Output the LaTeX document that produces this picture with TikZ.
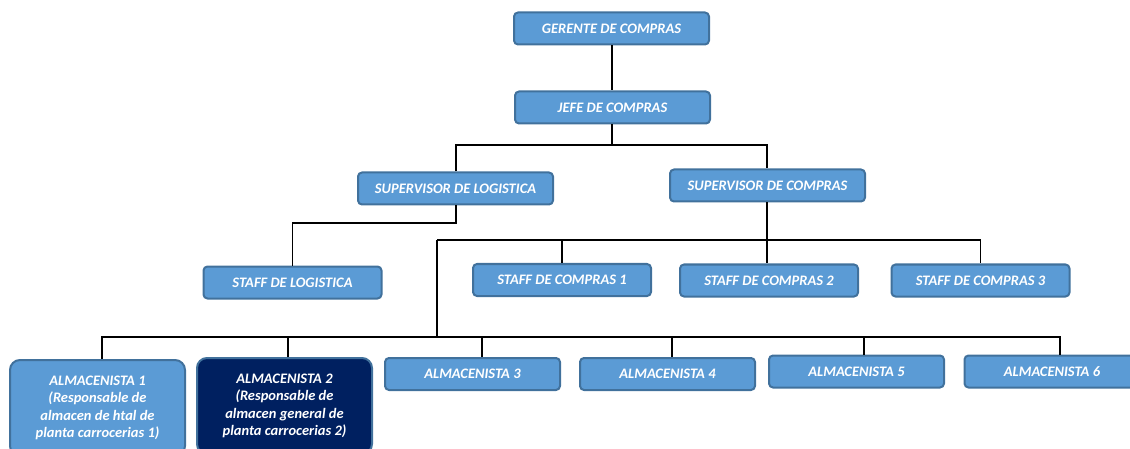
\documentclass[tikz,border=0pt]{standalone}
\usepackage{fontspec}
\setmainfont{Carlito}
\newfontfamily\boxfont{Carlito}[UprightFont=*, BoldFont=* Bold, ItalicFont=* Italic, BoldItalicFont=* Bold Italic]
\definecolor{boxblue}{HTML}{5B9BD5}
\definecolor{boxedge}{HTML}{41719C}
\definecolor{navy}{HTML}{002060}
\begin{document}
\begin{tikzpicture}[x=1pt,y=-1pt,
  post/.style={draw=boxedge, line width=2pt, fill=boxblue, rounded corners=4pt,
    text=white, font=\boxfont\fontsize{14.5}{16}\selectfont\bfseries\itshape,
    minimum width=195pt, minimum height=32pt, inner sep=0pt},
  staff/.style={post, minimum width=178pt},
  alm/.style={post, minimum width=175pt},
  bigalm/.style={post, rounded corners=10pt, minimum width=175pt, minimum height=100pt,
    align=center, font=\boxfont\fontsize{14.5}{17.5}\selectfont\bfseries\itshape},
  link/.style={draw=black, line width=1.5pt}]
\useasboundingbox (0,0) rectangle (1130,449);

% top of the hierarchy
\node[post] (ger) at (611.5,28.5) {GERENTE DE COMPRAS};
\node[post] (jefe) at (612.5,107.5) {JEFE DE COMPRAS};

% supervisors
\node[post] (suplog) at (455.5,188.5) {SUPERVISOR DE LOGISTICA};
\node[post] (supcom) at (767.5,185.5) {SUPERVISOR DE COMPRAS};

% staff
\node[staff] (stlog) at (292.5,282.5) {STAFF DE LOGISTICA};
\node[staff] (st1) at (562,280) {STAFF DE COMPRAS 1};
\node[staff] (st2) at (769,280.5) {STAFF DE COMPRAS 2};
\node[staff] (st3) at (980.5,280.5) {STAFF DE COMPRAS 3};

% warehouse keepers (the two tall boxes run past the lower edge)
\node[bigalm, minimum height=96pt] (a1) at (97.5,408) {ALMACENISTA 1\\(Responsable de\\almacen de htal de\\planta carrocerias 1)};
\node[bigalm, minimum height=96pt, fill=navy] (a2) at (284.5,406) {ALMACENISTA 2\\(Responsable de\\almacen general de\\planta carrocerias 2)};
\node[alm] (a3) at (472.5,374) {ALMACENISTA 3};
\node[alm] (a4) at (667.5,374) {ALMACENISTA 4};
\node[alm] (a5) at (856.5,371.5) {ALMACENISTA 5};
\node[alm] (a6) at (1052,371.5) {ALMACENISTA 6};

% connectors
\coordinate (j1) at (612,145);
\coordinate (l1) at (456,223);
\coordinate (c1) at (767,240);
\coordinate (c0) at (437,240);
\coordinate (w0) at (437,337);

\draw[link] (ger.south -| j1) -- (jefe.north -| j1);
\draw[link] (jefe.south -| j1) -- (j1);
\draw[link] (suplog.north -| l1) |- (j1) -| (supcom.north -| c1);

\draw[link] (suplog.south -| l1) -- (l1) -| (stlog.north);

\draw[link] (supcom.south -| c1) -- (c1);
\draw[link] (c0) -- (st3.north |- c0) -- (st3.north);
\draw[link] (st1.north |- c0) -- (st1.north);
\draw[link] (c1) -- (st2.north -| c1);
\draw[link] (c0) -- (w0);

\draw[link] (a1.north -| 102,0) |- (w0) -| (a6.north -| 1060,0);
\draw[link] (a2.north -| 288,0) -- (288,337);
\draw[link] (a3.north -| 482,0) -- (482,337);
\draw[link] (a4.north -| 672,0) -- (672,337);
\draw[link] (a5.north -| 864,0) -- (864,337);
\draw[link] (w0) -- (1060,337);
\end{tikzpicture}
\end{document}
